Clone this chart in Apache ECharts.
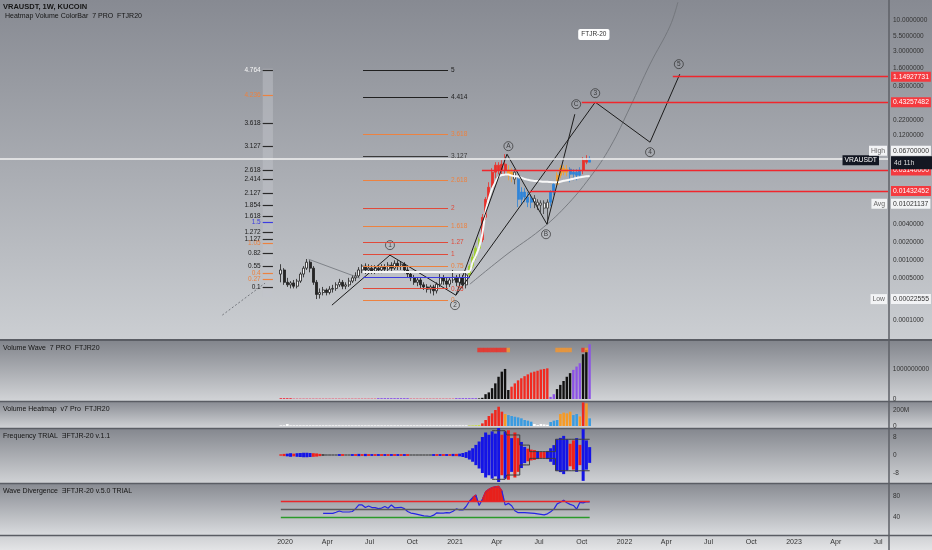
<!DOCTYPE html>
<html><head><meta charset="utf-8">
<script src="https://cdn.jsdelivr.net/npm/echarts@6/dist/echarts.min.js"></script>
<style>html,body{margin:0;padding:0;background:#a3a6ac}#c{width:932px;height:550px}</style>
</head><body><div id="c"></div>
<script>
// ---------- axis ranges ----------
const DAY = 86400000;
const T0 = Date.UTC(2020, 0, 1);
const X_MIN = T0 - 613.7 * DAY, X_MAX = T0 + 1298.4 * DAY;
const Y_MIN = 5.07e-5, Y_MAX = 21.8;
const D = s => Date.parse(s);

// ---------- tick labels ----------
const TICK_DATES = ['2020-01-01','2020-04-01','2020-07-01','2020-10-01','2021-01-01','2021-04-01','2021-07-01','2021-10-01','2022-01-01','2022-04-01','2022-07-01','2022-10-01','2023-01-01','2023-04-01','2023-07-01'];
const MONTHS = ['Jan','Feb','Mar','Apr','May','Jun','Jul','Aug','Sep','Oct','Nov','Dec'];
const PRICE_TICKS = [10, 5.5, 3, 1.6, 0.8, 0.22, 0.12, 0.008, 0.004, 0.002, 0.001, 0.0005, 0.0001];
const VOLWAVE_TICKS = [0, 1000];
const HEAT_TICKS = [0, 200];
const FREQ_TICKS = [8, 0, -8];
const DIV_TICKS = [40, 80];

// ---------- weekly candles ----------
const firstWeek = '2019-12-23';
const weekCount = 96;
const weeks = Array.from({length: weekCount}, (_, i) => D(firstWeek) + i * 7 * DAY);

const opens = [0.00059,0.00069,0.00043,0.00039,0.00042,0.00037,0.00045,0.00059,0.00074,0.00093,
0.00074,0.00043,0.00027,0.00029,0.00032,0.00029,0.00033,0.00034,0.00039,0.00043,
0.00037,0.00039,0.00045,0.00051,0.00055,0.00069,0.00080,0.00069,0.00074,0.00066,
0.00074,0.00069,0.00077,0.00071,0.00083,0.00074,0.00089,0.00080,0.00086,0.00069,
0.00059,0.00051,0.00043,0.00047,0.00039,0.00036,0.00033,0.00036,0.00031,0.00040,
0.00051,0.00045,0.00040,0.00047,0.00052,0.00043,0.00051,0.00039,0.00057,0.00080,
0.00113,0.00159,0.0022,0.0052,0.0104,0.0165,0.0294,0.0385,0.0317,0.0400,
0.0317,0.0262,0.0294,0.0225,0.0104,0.0137,0.0113,0.0093,0.0108,0.0093,
0.0083,0.0090,0.0074,0.0093,0.0137,0.0185,0.0262,0.0343,0.0294,0.0330,
0.0272,0.0294,0.0262,0.0317,0.0466,0.0432];
const closes = [0.00069,0.00043,0.00039,0.00042,0.00037,0.00045,0.00059,0.00074,0.00093,0.00074,
0.00043,0.00027,0.00029,0.00032,0.00029,0.00033,0.00034,0.00039,0.00043,0.00037,
0.00039,0.00045,0.00051,0.00055,0.00069,0.00080,0.00069,0.00074,0.00066,0.00074,
0.00069,0.00077,0.00071,0.00083,0.00074,0.00089,0.00080,0.00086,0.00069,0.00059,
0.00051,0.00043,0.00047,0.00039,0.00036,0.00033,0.00036,0.00031,0.00040,0.00051,
0.00045,0.00040,0.00047,0.00052,0.00043,0.00051,0.00039,0.00057,0.00080,0.00113,
0.00159,0.0022,0.0052,0.0104,0.0165,0.0294,0.0385,0.0317,0.0400,0.0317,
0.0262,0.0294,0.0225,0.0104,0.0137,0.0113,0.0093,0.0108,0.0093,0.0083,
0.0090,0.0074,0.0093,0.0137,0.0185,0.0262,0.0343,0.0294,0.0330,0.0272,
0.0294,0.0262,0.0317,0.0466,0.0432,0.0484];
const lows = [0.00043,0.00039,0.00036,0.00034,0.00034,0.00034,0.00042,0.00052,0.00069,0.00063,
0.00039,0.000226,0.00023,0.00026,0.00026,0.00027,0.00029,0.00031,0.00036,0.00033,
0.00033,0.00036,0.00042,0.00045,0.00051,0.00061,0.00059,0.00061,0.00059,0.00059,
0.00061,0.00061,0.00063,0.00063,0.00066,0.00069,0.00069,0.00069,0.00061,0.00052,
0.00045,0.00039,0.00037,0.00034,0.00032,0.00029,0.00028,0.00026,0.00028,0.00036,
0.00039,0.00034,0.00036,0.00042,0.00037,0.00039,0.00034,0.00034,0.00052,0.00074,
0.00100,0.00142,0.0020,0.0047,0.0093,0.0147,0.0233,0.0272,0.0272,0.0272,
0.0216,0.0200,0.0185,0.0077,0.0083,0.0093,0.0077,0.0074,0.0074,0.0069,
0.0064,0.0059,0.0040,0.0080,0.0122,0.0165,0.0233,0.0262,0.0252,0.0200,
0.0216,0.0216,0.0233,0.0272,0.0400,0.0432];
const highs = [0.00086,0.00074,0.00051,0.00045,0.00047,0.00049,0.00063,0.00080,0.00105,0.00100,
0.00080,0.00047,0.00034,0.00036,0.00034,0.00037,0.00039,0.00043,0.00049,0.00047,
0.00043,0.00051,0.00057,0.00063,0.00077,0.00086,0.00089,0.00086,0.00083,0.00083,
0.00083,0.00086,0.00086,0.00093,0.00093,0.00100,0.00100,0.00097,0.00093,0.00077,
0.00063,0.00057,0.00052,0.00051,0.00043,0.00040,0.00039,0.00039,0.00043,0.00059,
0.00057,0.00051,0.00052,0.00069,0.00057,0.00059,0.00057,0.00063,0.00086,0.00126,
0.00172,0.0024,0.0059,0.0113,0.0200,0.0343,0.0432,0.0432,0.0466,0.0587,
0.0385,0.0343,0.0330,0.0243,0.0165,0.0159,0.0137,0.0126,0.0122,0.0104,
0.0100,0.0100,0.0104,0.0147,0.0200,0.0294,0.0385,0.0385,0.0385,0.0356,
0.0330,0.0330,0.0356,0.0523,0.0565,0.0543];
// volume-heat class of each bar ('n' = plain up/down candle)
const candleClass = [].concat(Array(58).fill('n'),
 ['grn','grn','grn','grn','red','red','red','red','red','red','red','red','org','org','wht',
  'blu','blu','blu','blu','blu','wht','wht','wht','wht','wht','blu','blu','org','org','org','org',
  'blu','blu','blu','blu','red','red','blu']);

// white moving average from week 57
const maStart = 57;
const maValues = [0.00066,0.00066,0.00093,0.0012,0.00166,0.0028,0.0066,0.0107,0.0157,0.0200,0.0248,0.0264,0.0268,0.0270,0.0258,0.0252,0.0249,0.0238,0.0227,0.0220,0.0214,0.0210,0.0209,0.0206,0.0204,0.0203,0.0201,0.0200,0.0200,0.0204,0.0212,0.0216,0.0222,0.0229,0.0236,0.0243,0.0247,0.0252,0.0255];

// ---------- drawings on the price pane ----------
const currentPrice = 0.0484;
const redLevels = [1.14927731, 0.43257482, 0.0314, 0.01432452];
const redLevelText = ['1.14927731','0.43257482','0.03140000','0.01432452'];
const redLevelStart = ['2022-04-15','2021-10-01','2021-02-28','2021-06-11'];

const fibLevels = [0, 0.25, 0.5, 0.618, 0.75, 1, 1.27, 1.618, 2, 2.618, 3.127, 3.618, 4.414, 5];
const fibLabels = ['0','0.25','','','0.75','1','1.27','1.618','2','2.618','3.127','3.618','4.414','5'];
const fibKey = ['o','r','b','w','o','r','r','o','r','o','g','o','k','k'];
const fibPriceAt0 = 0.000216, fibPriceAt1 = 0.00126;
const fibStart = '2020-06-17', fibEnd = '2020-12-17', fibExtEnd = '2021-02-02';

const scaleLevels = [0.1, 0.27, 0.4, 0.55, 0.82, 1.05, 1.127, 1.272, 1.5, 1.618, 1.854, 2.127, 2.414, 2.618, 3.127, 3.618, 4.236, 4.764];
const scaleKey = ['k','o','o','k','k','o','k','k','b','k','k','k','k','k','k','k','o','w'];
const scalePriceAt0 = 0.000299, scalePriceAt1 = 0.00178;
const scaleStart = '2019-11-14', scaleEnd = '2019-12-06';

const waveADates = ['2020-04-11','2020-08-14','2021-01-03','2021-04-23','2021-07-18','2021-09-16'];
const waveAPrices = [0.000179, 0.00122, 0.000262, 0.0587, 0.0040, 0.272];
const waveBDates = ['2021-01-03','2021-10-30','2022-02-25','2022-04-30'];
const waveBPrices = [0.000262, 0.432, 0.093, 1.265];
const waveTags = ['1','2','A','B','C','3','4','5'];
const waveTagDates = ['2020-08-14','2021-01-01','2021-04-26','2021-07-16','2021-09-19','2021-10-30','2022-02-25','2022-04-28'];
const waveTagPrices = [0.00179, 0.000179, 0.0798, 0.00272, 0.4, 0.61, 0.0634, 1.86];
const grayLineDates = ['2020-02-21','2020-06-10'];
const grayLinePrices = [0.00104, 0.000504];
const arcDates = ['2021-02-02','2021-04-23','2021-07-03','2021-08-26','2021-10-19','2021-12-01','2022-01-13','2022-02-25','2022-04-09','2022-04-26'];
const arcPrices = [0.0004, 0.00126, 0.00318, 0.0077, 0.0243, 0.0767, 0.357, 1.86, 8.0, 20];
const dotDates = ['2019-08-19','2019-11-19'];
const dotPrices = [0.000122, 0.000416];
const noteDate = '2021-10-27', notePrice = 5.8, noteText = 'FTJR-20';

// ---------- Volume Wave (millions) ----------
const volWave = [30,30,30,30, 30,30,30,30,30,30,30,30,30,30,30,30,30,30,30,30,30,30,30,30,30,30,30,30,30,30,
 30,30,30,30,30,30,30,30,30,30, 30,30,30,30,30,30,30,30,30,30,30,30,30,30, 30,30,30,30,30,30,30,
 20,40,160,220,360,520,740,910,1000,300,
 410,520,620,690,760,820,880,910,940,980,1000,1020,
 70,160, 330,470,600,740,860, 970,1080,1190, 1490,1630,1820];
const volWaveClass = [].concat(Array(4).fill('rdt'), Array(26).fill('pnk'), Array(10).fill('pur'), Array(14).fill('pnk'), Array(7).fill('pur'),
 Array(10).fill('blk'), Array(12).fill('red'), ['pur','pur'], Array(5).fill('blk'), ['pur','pur','pur','blk','blk','pur']);
const waveSignalIdx = [61,62,63,64,65,66,67,68,69,70,85,86,87,88,89,93,94];
const waveSignalClass = ['red','red','red','red','red','red','red','red','red','org','org','org','org','org','org','red','org'];
const waveSignalLevel = 1630;

// ---------- Volume Heatmap (millions) ----------
const heatVol = [8,8,25,8,8,8,8,8,8,8, 8,8,8,8,8,8,8,8,8,8, 8,8,8,8,8,8,8,8,8,8, 8,8,8,8,8,8,8,8,8,8,
 8,8,8,8,8,8,8,8,8,8, 8,8,8,8,8,8,8,8, 6,8,10,12,
 33,75,125,158,200,241,179,150,137,125,116,108,96,75,67,54,25,12,25,20,15,50,67,75,150,167,158,179,137,150,120,295,283,96];
const heatClass = [].concat(Array(58).fill('wht'), ['ylw','ylw','ylw','ylw'],
 ['red','red','red','red','red','red','red','org','blu','blu','blu','blu','blu','blu','blu','blu','wht','wht','wht','wht','wht','blu','blu','blu','org','org','org','org','blu','blu','org','red','org','blu']);

// ---------- Frequency ----------
const freqAmp = [0.3,0.5,0.6,0.8,0.6,0.8,0.9,1.0,1.0,0.9, 0.8,0.7,0.5,0.3,0.2,0.2,0.2,0.2,0.4,0.4,
 0.2,0.2,0.4,0.4,0.5,0.4,0.5,0.4,0.4,0.4, 0.4,0.4,0.4,0.4,0.4,0.4,0.4,0.4,0.4,0.4,
 0.2,0.2,0.2,0.2,0.2,0.2,0.2,0.4,0.4,0.4, 0.4,0.4,0.4,0.5,0.5,0.6,0.9,1.3,2.0,3.0,
 4.5,6.0,8.0,10.0,9.0,10.5,9.5,12.0,9.0,10.5, 11.0,7.5,10.0,7.5,5.8,3.6,2.8,2.4,2.2,1.8,
 1.3,1.3,1.8,3.0,4.4,7.0,7.6,8.5,7.0,5.0, 6.5,7.5,4.5,11.5,6.5,3.5];
const freqClass = ['r','r','b','b','r','b','b','b','b','b', 'r','r','r','k','k','k','k','k','b','r',
 'k','k','b','r','b','r','b','r','b','r', 'b','r','b','r','b','r','b','r','b','r',
 'k','k','k','k','k','k','k','b','r','b', 'r','b','r','b','r','b','b','b','b','b',
 'b','b','b','b','b','b','b','b','r','b', 'r','b','r','r','b','b','r','r','r','b',
 'r','r','b','b','b','b','b','b','b','r', 'r','b','r','b','b','b'];
const freqEnvStart = 65;
const freqEnv = [10.8,10.8,10.8,10.8,10.8, 8.9,8.9,8.9,8.9, 4.4,4.4,4.4, 1.5,1.5,1.5,1.5,1.5,1.5,1.5,1.5, 7.0,7.0,7.0,7.0,7.0,7.0,7.0,7.0,7.0,7.0,7.0];

// ---------- Wave Divergence ----------
const divStart = 13;
const divValues = [47,47,47,47,49,51.4,49.5,49.5,49.5,50.5,56,63,63,58,61,58,58,56,57,60,56.6,63,57.5,58,58.5,56,50.5,47.5,46.5,45,43.5,42,41.5,41,43.5,48,47.5,47.5,48.2,48,51,55.5,53.3,53.3,60,70,77,82,62,73.7,88,93,96,97.7,98.5,90,63,66,61.5,52,48.2,48.2,48.2,48,47.5,47,46,45,44,46,50,55,65,68,72,67,64,62,55,68,67,69,69];
const divUpper = 70, divMid = 55, divLower = 40;

// ---------- styles ----------
const FONT = 'Liberation Sans, DejaVu Sans, sans-serif';
const CANDLE_COL = {grn:'#9fce2f', red:'#e8302a', org:'#f4a02c', wht:'#f4f4f4', blu:'#2f84d8'};
const WAVE_COL = {blk:'#111111', red:'#f2291f', pur:'#8c52e6', pnk:'#df8c9c', rdt:'#ee3344', org:'#f7962a'};
const HEAT_COL = {wht:'#ffffff', ylw:'#c9dc3a', red:'#f0281e', org:'#f79a24', blu:'#3a9be0'};
const FREQ_COL = {b:'#1414e6', r:'#f0201a', k:'#222222'};
const FIB_COL = {o:'#ec8240', r:'#e04a3a', b:'#3c3ce0', w:'#f6f6f6', g:'#3a3a3a', k:'#202020'};

const fibPrice = lv => fibPriceAt0 * Math.pow(fibPriceAt1 / fibPriceAt0, lv);
const scalePrice = lv => scalePriceAt0 * Math.pow(scalePriceAt1 / scalePriceAt0, lv);
const pairs = (ds, ps) => ds.map((d, i) => [D(d), ps[i]]);

const chart = echarts.init(document.getElementById('c'), null, {width: 932, height: 550});

function xAx(gi, show) {
  return {type: 'value', gridIndex: gi, min: X_MIN, max: X_MAX, scale: true,
    axisLine: {show: false}, axisTick: {show: false}, splitLine: {show: false},
    axisLabel: show ? {show: true, customValues: TICK_DATES.map(D), hideOverlap: false,
      formatter: v => { const d = new Date(Number(v)); const m = d.getUTCMonth(); return m === 0 ? String(d.getUTCFullYear()) : MONTHS[m]; },
      color: '#333', fontSize: 7, margin: 4, fontFamily: FONT} : {show: false}};
}
function yAx(gi, extra, ticks, fmt) {
  return Object.assign({gridIndex: gi, position: 'right', axisLine: {show: false}, axisTick: {show: false}, splitLine: {show: false},
    axisLabel: {customValues: ticks, formatter: fmt, color: '#333', fontSize: 6.5, margin: 5, fontFamily: FONT}}, extra);
}

// candles
const candleData = weeks.map((t, i) => {
  const k = candleClass[i];
  let fill, border;
  if (k === 'n') { fill = closes[i] >= opens[i] ? '#f7f7f7' : '#262626'; border = '#1e1e1e'; }
  else { fill = CANDLE_COL[k]; border = k === 'wht' ? '#3a3a3a' : CANDLE_COL[k]; }
  return {value: [t, opens[i], closes[i], lows[i], highs[i]], itemStyle: {color: fill, color0: fill, borderColor: border, borderColor0: border, borderWidth: 0.8}};
});

const series = [];
// left fib scale
series.push({type: 'line', xAxisIndex: 0, yAxisIndex: 0, data: [], silent: true,
  markArea: {silent: true, itemStyle: {color: 'rgba(196,198,203,0.45)'},
    data: [[{coord: [D(scaleStart), scalePrice(-0.1)]}, {coord: [D(scaleEnd), scalePrice(4.8)]}]]},
  markLine: {silent: true, symbol: ['none', 'none'], animation: false,
    data: scaleLevels.map((lv, i) => [{coord: [D(scaleStart), scalePrice(lv)],
      lineStyle: {color: scaleKey[i] === 'k' || scaleKey[i] === 'w' ? '#2a2a2a' : FIB_COL[scaleKey[i]], width: 1.2, type: 'solid'},
      label: {show: true, position: 'start', distance: 2, formatter: String(lv), color: FIB_COL[scaleKey[i]], fontSize: 6.5, fontFamily: FONT}},
      {coord: [D(scaleEnd), scalePrice(lv)]}])}});
// fib tool
series.push({type: 'line', xAxisIndex: 0, yAxisIndex: 0, data: [], silent: true,
  markLine: {silent: true, symbol: ['none', 'none'], animation: false,
    data: fibLevels.map((lv, i) => [{coord: [D(fibStart), fibPrice(lv)],
      lineStyle: {color: FIB_COL[fibKey[i]], width: lv === 0.618 ? 1.8 : 1, type: 'solid'},
      label: {show: !!fibLabels[i], position: 'end', distance: 3, formatter: fibLabels[i] || ' ', color: FIB_COL[fibKey[i]], fontSize: 6.5, fontFamily: FONT}},
      {coord: [D((lv === 0.5 || lv === 0.618) ? fibExtEnd : fibEnd), fibPrice(lv)]}])}});
// arcs & guide lines
series.push({type: 'line', xAxisIndex: 0, yAxisIndex: 0, data: pairs(arcDates, arcPrices), smooth: 0.4, symbol: 'none', silent: true,
  lineStyle: {color: '#72757b', width: 0.9}});
series.push({type: 'line', xAxisIndex: 0, yAxisIndex: 0, data: pairs(dotDates, dotPrices), symbol: 'none', silent: true,
  lineStyle: {color: '#777a80', width: 1, type: [2, 2]}});
series.push({type: 'line', xAxisIndex: 0, yAxisIndex: 0, data: pairs(grayLineDates, grayLinePrices), symbol: 'none', silent: true,
  lineStyle: {color: '#6f7278', width: 0.8}});
// current price + red levels
series.push({type: 'line', xAxisIndex: 0, yAxisIndex: 0, data: [], silent: true,
  markLine: {silent: true, symbol: ['none', 'none'], animation: false,
    data: [{yAxis: currentPrice, lineStyle: {color: '#f2f2f2', width: 1.5, type: 'solid'}, label: {show: false}}].concat(
      redLevels.map((p, i) => [{coord: [D(redLevelStart[i]), p], lineStyle: {color: '#f0262c', width: 1.3, type: 'solid'},
        label: {show: true, position: 'end', distance: 3, formatter: redLevelText[i], color: '#fff', backgroundColor: '#f43a3f',
          padding: [2, 2, 1, 2], fontSize: 6.8, fontFamily: FONT}}, {coord: [X_MAX, p]}]))}});
// candles
series.push({type: 'candlestick', xAxisIndex: 0, yAxisIndex: 0, barWidth: 2.4, data: candleData});
// moving average
series.push({type: 'line', xAxisIndex: 0, yAxisIndex: 0, symbol: 'none', smooth: 0.3,
  data: maValues.map((v, k) => [weeks[maStart + k], v]), lineStyle: {color: '#f8f8f8', width: 2}});
// wave lines
series.push({type: 'line', xAxisIndex: 0, yAxisIndex: 0, symbol: 'none', data: pairs(waveADates, waveAPrices), lineStyle: {color: '#1c1c1c', width: 1}});
series.push({type: 'line', xAxisIndex: 0, yAxisIndex: 0, symbol: 'none', data: pairs(waveBDates, waveBPrices), lineStyle: {color: '#1c1c1c', width: 1}});
// wave tags
series.push({type: 'scatter', xAxisIndex: 0, yAxisIndex: 0, symbol: 'circle', symbolSize: 9,
  itemStyle: {color: 'rgba(0,0,0,0)', borderColor: '#222', borderWidth: 0.8},
  label: {show: true, position: 'inside', formatter: p => p.name, color: '#222', fontSize: 6.5, fontFamily: FONT},
  data: waveTags.map((t, i) => ({name: t, value: [D(waveTagDates[i]), waveTagPrices[i]]}))});
// badges
const badge = (p, text, pos, bg, col, off, w) => ({coord: [X_MAX, p], symbolSize: 0,
  label: {show: true, position: pos, distance: pos === 'left' ? 1 : 3, formatter: text, backgroundColor: bg, color: col,
    padding: w ? [3, 2, 3, 3] : [2, 2, 1, 2], width: w, fontSize: 6.8, fontFamily: FONT, offset: off || [0, 0]}});
series.push({type: 'line', xAxisIndex: 0, yAxisIndex: 0, data: [], silent: true,
  markPoint: {silent: true, animation: false, data: [badge(currentPrice, 'VRAUSDT', 'left', '#131722', '#fff', [-8, 1])]}});
series.push({type: 'line', xAxisIndex: 0, yAxisIndex: 0, data: [], silent: true, z: 6,
  markPoint: {silent: true, animation: false, data: [
    badge(0.067, '4d 11h', 'right', '#131722', '#ddd', [0, 12], 36),
    badge(0.067, 'High', 'left', '#f2f3f5', '#666'),
    badge(0.067, '0.06700000', 'right', '#f2f3f5', '#333'),
    badge(0.01021137, 'Avg', 'left', '#f2f3f5', '#666', [0, 4]),
    badge(0.01021137, '0.01021137', 'right', '#f2f3f5', '#333', [0, 4]),
    badge(0.00022555, 'Low', 'left', '#f2f3f5', '#666'),
    badge(0.00022555, '0.00022555', 'right', '#f2f3f5', '#333'),
    {coord: [D(noteDate), notePrice], symbolSize: 0, label: {show: true, position: 'inside', formatter: noteText, backgroundColor: '#ffffff',
      color: '#333', padding: [2, 3, 2, 3], borderRadius: 2, fontSize: 6.5, fontFamily: FONT}}]}});

// volume wave
series.push({type: 'bar', xAxisIndex: 1, yAxisIndex: 1, barWidth: 2.4,
  data: weeks.map((t, i) => ({value: [t, volWave[i]], itemStyle: {color: WAVE_COL[volWaveClass[i]]}}))});
series.push({type: 'scatter', xAxisIndex: 1, yAxisIndex: 1, symbol: 'rect', symbolSize: [3.5, 4.5],
  data: waveSignalIdx.map((wi, k) => ({value: [weeks[wi], waveSignalLevel], itemStyle: {color: WAVE_COL[waveSignalClass[k]]}}))});
// heatmap
series.push({type: 'bar', xAxisIndex: 2, yAxisIndex: 2, barWidth: 2.6,
  data: weeks.map((t, i) => ({value: [t, heatVol[i]], itemStyle: {color: HEAT_COL[heatClass[i]]}}))});
// frequency
series.push({type: 'bar', xAxisIndex: 3, yAxisIndex: 3, barWidth: 3, barGap: '-100%',
  data: weeks.map((t, i) => ({value: [t, freqAmp[i]], itemStyle: {color: FREQ_COL[freqClass[i]]}}))});
series.push({type: 'bar', xAxisIndex: 3, yAxisIndex: 3, barWidth: 3, barGap: '-100%',
  data: weeks.map((t, i) => ({value: [t, -freqAmp[i]], itemStyle: {color: FREQ_COL[freqClass[i]]}}))});
series.push({type: 'line', xAxisIndex: 3, yAxisIndex: 3, symbol: 'none', step: 'middle', z: 5,
  data: freqEnv.map((v, k) => [weeks[freqEnvStart + k], v]), lineStyle: {color: '#3e3e3e', width: 1}});
series.push({type: 'line', xAxisIndex: 3, yAxisIndex: 3, symbol: 'none', step: 'middle', z: 5,
  data: freqEnv.map((v, k) => [weeks[freqEnvStart + k], -v]), lineStyle: {color: '#3e3e3e', width: 1}});
// divergence
series.push({type: 'line', xAxisIndex: 4, yAxisIndex: 4, data: [], silent: true,
  markLine: {silent: true, symbol: ['none', 'none'], animation: false, label: {show: false},
    data: [[divUpper, '#e8262a'], [divMid, '#5a5a5a'], [divLower, '#2a9a2a']].map(([v, c]) =>
      [{coord: [weeks[0], v], lineStyle: {color: c, width: 1.3, type: 'solid'}}, {coord: [weeks[weekCount - 1], v]}])}});
const divT = divValues.map((v, k) => weeks[divStart + k]);
series.push({type: 'line', xAxisIndex: 4, yAxisIndex: 4, symbol: 'none',
  data: divValues.map((v, k) => [divT[k], v]), lineStyle: {width: 1.2, color: '#2424e6'}});
// red fill between the divergence line and the upper band, built segment by segment through the axes
series.push({type: 'custom', xAxisIndex: 4, yAxisIndex: 4, silent: true, encode: {x: [0, 2], y: [1, 3]},
  data: divValues.slice(0, -1).map((v, k) => [divT[k], v, divT[k + 1], divValues[k + 1]]),
  renderItem: (params, api) => {
    const x0 = api.value(0), v0 = api.value(1), x1 = api.value(2), v1 = api.value(3);
    if (v0 <= divUpper && v1 <= divUpper) return null;
    let pts;
    if (v0 > divUpper && v1 > divUpper) pts = [[x0, divUpper], [x0, v0], [x1, v1], [x1, divUpper]];
    else {
      const xc = x0 + (x1 - x0) * (divUpper - v0) / (v1 - v0);
      pts = v0 > divUpper ? [[x0, divUpper], [x0, v0], [xc, divUpper]] : [[xc, divUpper], [x1, v1], [x1, divUpper]];
    }
    return {type: 'polygon', shape: {points: pts.map(p => api.coord(p))}, style: {fill: '#e8201c', stroke: '#e8201c', lineWidth: 0.5}};
  }});
series.push({type: 'line', xAxisIndex: 4, yAxisIndex: 4, symbol: 'none', connectNulls: false,
  data: divValues.map((v, k) => [divT[k], v > divUpper ? v : null]), lineStyle: {width: 1.2, color: '#e8201c'}});

// backgrounds (decorative panes)
const grad = (c1, c2) => new echarts.graphic.LinearGradient(0, 0, 0, 1, [{offset: 0, color: c1}, {offset: 1, color: c2}]);
const pane = (y, h, c1, c2) => ({type: 'rect', z: -10, silent: true, shape: {x: 0, y: y, width: 932, height: h}, style: {fill: grad(c1, c2)}});
const hline = (y, w, c) => ({type: 'line', z: -5, silent: true, shape: {x1: 0, y1: y, x2: 932, y2: y}, style: {stroke: c, lineWidth: w}});

const option = {
  animation: false,
  backgroundColor: '#a3a6ac',
  textStyle: {fontFamily: FONT},
  title: [
    {text: 'VRAUSDT, 1W, KUCOIN', left: 3, top: 3, padding: 0, textStyle: {fontSize: 7.5, fontWeight: 'bold', color: '#151515', fontFamily: FONT}},
    {text: 'Heatmap Volume ColorBar  7 PRO  FTJR20', left: 5, top: 13, padding: 0, textStyle: {fontSize: 7, fontWeight: 'normal', color: '#151515', fontFamily: FONT}},
    {text: 'Volume Wave  7 PRO  FTJR20', left: 3, top: 345, padding: 0, textStyle: {fontSize: 7, fontWeight: 'normal', color: '#151515', fontFamily: FONT}},
    {text: 'Volume Heatmap  v7 Pro  FTJR20', left: 3, top: 406, padding: 0, textStyle: {fontSize: 7, fontWeight: 'normal', color: '#151515', fontFamily: FONT}},
    {text: 'Frequency TRIAL  \u018EFTJR-20 v.1.1', left: 3, top: 433, padding: 0, textStyle: {fontSize: 7, fontWeight: 'normal', color: '#151515', fontFamily: FONT}},
    {text: 'Wave Divergence  \u018EFTJR-20 v.5.0 TRIAL', left: 3, top: 488, padding: 0, textStyle: {fontSize: 7, fontWeight: 'normal', color: '#151515', fontFamily: FONT}}
  ],
  graphic: [
    pane(0, 339, '#878a92', '#cbced2'),
    pane(341, 60, '#83868d', '#d2d4d7'),
    pane(402, 26, '#8a8d94', '#d0d2d5'),
    pane(429, 54, '#85888f', '#d0d2d5'),
    pane(484, 51, '#898c93', '#d9dbde'),
    pane(536, 14, '#cfd1d4', '#e3e4e6'),
    hline(340, 2, '#5a5d64'), hline(401.5, 1.5, '#5a5d64'), hline(428.5, 1.5, '#5a5d64'),
    hline(483.5, 1.5, '#5a5d64'), hline(535.5, 1.5, '#5a5d64'),
    {type: 'line', z: -5, silent: true, shape: {x1: 889, y1: 0, x2: 889, y2: 550}, style: {stroke: '#5e6167', lineWidth: 1.5}}
  ],
  grid: [
    {left: 0, top: 0, width: 888, height: 338},
    {left: 0, top: 341, width: 888, height: 58},
    {left: 0, top: 402, width: 888, height: 24},
    {left: 0, top: 428, width: 888, height: 54},
    {left: 0, top: 483, width: 888, height: 52}
  ],
  xAxis: [xAx(0, false), xAx(1, false), xAx(2, false), xAx(3, false), xAx(4, true)],
  yAxis: [
    yAx(0, {type: 'log', logBase: 10, min: Y_MIN, max: Y_MAX}, PRICE_TICKS, v => Number(v).toFixed(7)),
    yAx(1, {type: 'value', min: 0, max: 1930}, VOLWAVE_TICKS, v => v === 0 ? '0' : String(v * 1e6)),
    yAx(2, {type: 'value', min: 0, max: 300}, HEAT_TICKS, v => v === 0 ? '0' : v + 'M'),
    yAx(3, {type: 'value', min: -12, max: 12}, FREQ_TICKS, v => String(v)),
    yAx(4, {type: 'value', min: 5.7, max: 104.8}, DIV_TICKS, v => String(v))
  ],
  series: series
};
chart.setOption(option);
</script></body></html>
